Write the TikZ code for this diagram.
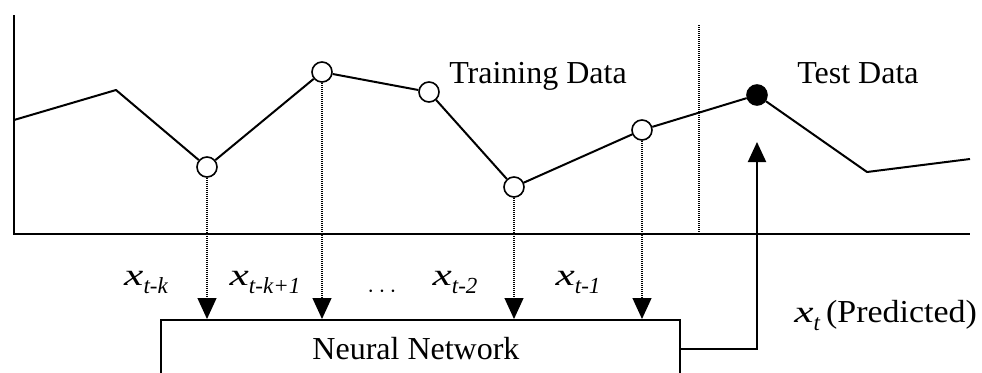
\documentclass[tikz,border=0pt]{standalone}
\usepackage{fontspec}
\setmainfont{Liberation Serif}
\usepackage{graphicx}
\usetikzlibrary{arrows.meta}
\newcommand{\xlab}[1]{{\fontsize{31}{31}\selectfont\scalebox{1.4}[1]{\itshape x}}\raisebox{-8pt}{\fontsize{23}{23}\selectfont\itshape #1}}
\tikzset{
  series/.style={line width=2pt, line join=round},
  axis/.style={line width=2.4pt},
  openpt/.style={circle, draw, line width=1.6pt, fill=white, minimum size=20pt, inner sep=0pt},
  fullpt/.style={circle, draw, line width=1.6pt, fill=black, minimum size=20pt, inner sep=0pt},
  dotline/.style={line width=1.2pt, dash pattern=on 1pt off 1pt},
  dotarrow/.style={dotline, -{Triangle[length=21pt,width=19pt]}},
  outarrow/.style={line width=2pt, -{Triangle[length=20pt,width=18pt]}},
  txt/.style={font=\fontsize{32}{38}\selectfont, inner sep=0pt},
  nnbox/.style={draw, line width=2pt, minimum width=519pt, minimum height=58pt, inner sep=0pt, font=\fontsize{32}{38}\selectfont},
}
\begin{document}
\begin{tikzpicture}[x=1pt, y=-1pt]
\useasboundingbox (0,0) rectangle (982,372);
% axes
\coordinate (ytop) at (14,15);
\coordinate (orig) at (14,234);
\coordinate (xend) at (970,234);
\draw[axis] (ytop) -- (orig) -- (xend);
% separator
\coordinate (s1) at (699,25);
\coordinate (s2) at (699,234);
\draw[dotline] (s1) -- (s2);
% series points
\coordinate (c0) at (14,120);
\coordinate (c1) at (116,90);
\node[openpt] (p1) at (207,167) {};
\node[openpt] (p2) at (322,72) {};
\node[openpt] (p3) at (429,92) {};
\node[openpt] (p4) at (514,187) {};
\node[openpt] (p5) at (642,130) {};
\node[fullpt] (pt) at (757,95) {};
\coordinate (c8) at (867,172);
\coordinate (c9) at (970,159);
\draw[series] (c0) -- (c1) -- (p1) -- (p2) -- (p3) -- (p4) -- (p5) -- (pt) -- (c8) -- (c9);
% labels
\node[txt, anchor=base] (train) at (538,83) {Training Data};
\node[txt, anchor=base] (test) at (858,83) {Test Data};
% network box
\node[nnbox] (nn) at (420.5,349) {\hspace*{-9pt}Neural Network};
% input arrows
\draw[dotarrow] (p1) -- (p1 |- nn.north);
\draw[dotarrow] (p2) -- (p2 |- nn.north);
\draw[dotarrow] (p4) -- (p4 |- nn.north);
\draw[dotarrow] (p5) -- (p5 |- nn.north);
% output arrow
\coordinate (tgt) at (757,142);
\draw[outarrow] (nn.east) -| (tgt);
% input labels
\node[txt, anchor=base] (l1) at (146,285) {\xlab{t-k}};
\node[txt, anchor=base] (l2) at (265,285) {\xlab{t-k+1}};
\node[txt, anchor=base] (l3) at (382,297) {$\cdots$};
\node[txt, anchor=base] (l4) at (455,285) {\xlab{t-2}};
\node[txt, anchor=base] (l5) at (578,285) {\xlab{t-1}};
\node[txt, anchor=base east] (l6) at (977,322) {\xlab{t}\hspace{6pt}\scalebox{1.06}[1]{(Predicted)}};
\end{tikzpicture}
\end{document}
